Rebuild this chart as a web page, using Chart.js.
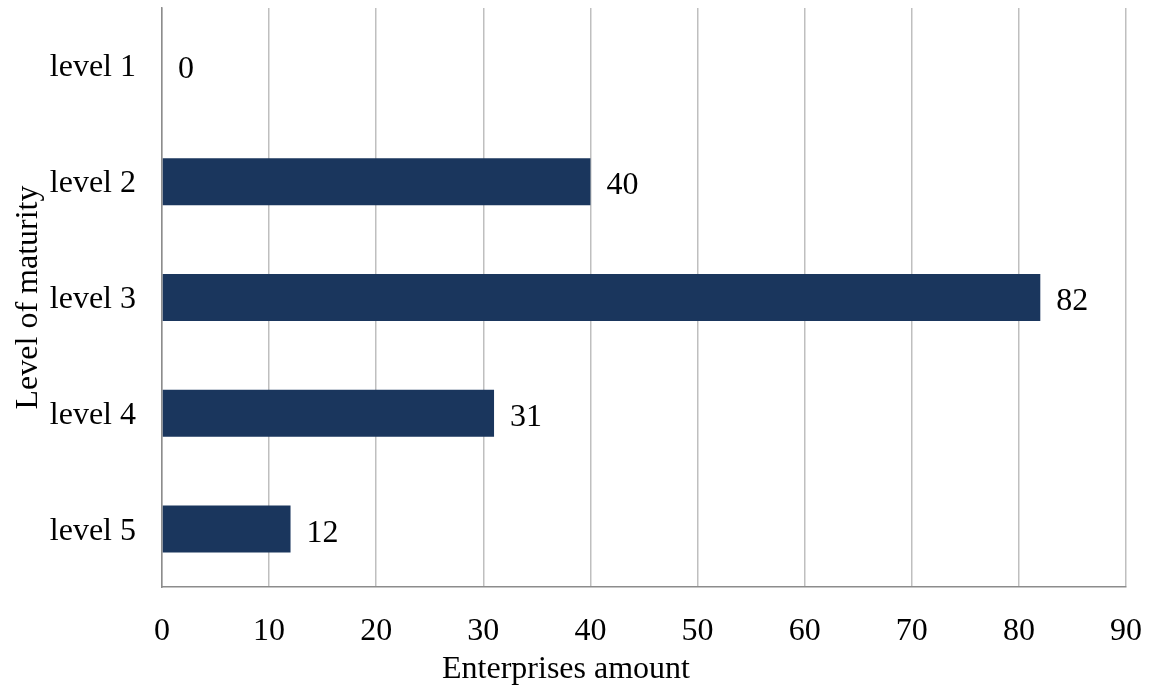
<!DOCTYPE html>
<html>
<head>
<meta charset="utf-8">
<script src="https://cdn.jsdelivr.net/npm/chart.js@4/dist/chart.umd.min.js"></script>
<style>
  html, body { margin: 0; padding: 0; background: #fff; }
  #wrap { width: 1152px; height: 688px; }
</style>
</head>
<body>
<div id="wrap"><canvas id="c" width="1152" height="688"></canvas></div>
<script>
const levels = ['level 1', 'level 2', 'level 3', 'level 4', 'level 5'];
const enterprises = [0, 40, 82, 31, 12];
const axisMin = 0;
const axisMax = 90;
const axisStep = 10;
const xTitle = 'Enterprises amount';
const yTitle = 'Level of maturity';

const SERIF = "'Liberation Serif', 'Times New Roman', serif";
const BAR = '#1a365d';

// Value next to the end of each bar, plus the horizontal axis title
// (centred on the whole figure rather than on the plot area).
const annotations = {
  id: 'annotations',
  afterDatasetsDraw(chart) {
    const ctx = chart.ctx;
    const meta = chart.getDatasetMeta(0);
    ctx.save();
    ctx.font = '32px ' + SERIF;
    ctx.fillStyle = '#000';
    ctx.textAlign = 'left';
    ctx.textBaseline = 'middle';
    meta.data.forEach((bar, i) => {
      ctx.fillText(String(enterprises[i]), bar.x + 16, bar.y + 4);
    });
    ctx.textAlign = 'center';
    ctx.fillText(xTitle, 566, 670);
    ctx.restore();
  }
};

function noScalePadding(scale) {
  scale.paddingTop = 0;
  scale.paddingBottom = 0;
  scale.paddingLeft = 0;
  scale.paddingRight = 0;
}

new Chart(document.getElementById('c'), {
  type: 'bar',
  data: {
    labels: levels,
    datasets: [{
      data: enterprises,
      backgroundColor: BAR,
      borderWidth: 0,
      barPercentage: 0.406,
      categoryPercentage: 1
    }]
  },
  options: {
    indexAxis: 'y',
    responsive: false,
    animation: false,
    devicePixelRatio: 1,
    layout: { padding: { top: 8, right: 26, left: 0, bottom: 0 } },
    plugins: { legend: { display: false }, tooltip: { enabled: false } },
    scales: {
      x: {
        min: axisMin,
        max: axisMax,
        ticks: {
          stepSize: axisStep,
          color: '#000',
          font: { family: SERIF, size: 32 },
          padding: 25,
          maxRotation: 0
        },
        grid: { color: '#bfbfbf', lineWidth: 1.5, drawTicks: false },
        border: { color: '#8c8c8c', width: 1.5 },
        title: { display: false },
        afterFit(scale) { scale.height = 101; noScalePadding(scale); }
      },
      y: {
        ticks: {
          color: '#000',
          font: { family: SERIF, size: 32 },
          padding: 26,
          labelOffset: 2
        },
        grid: { display: false, drawTicks: false },
        border: { color: '#8c8c8c', width: 1.5 },
        title: {
          display: true,
          text: yTitle,
          color: '#000',
          font: { family: SERIF, size: 32, lineHeight: 1.2 },
          padding: { top: 9, bottom: 0 }
        },
        afterFit(scale) { scale.width = 162; noScalePadding(scale); }
      }
    }
  },
  plugins: [annotations]
});
</script>
</body>
</html>
